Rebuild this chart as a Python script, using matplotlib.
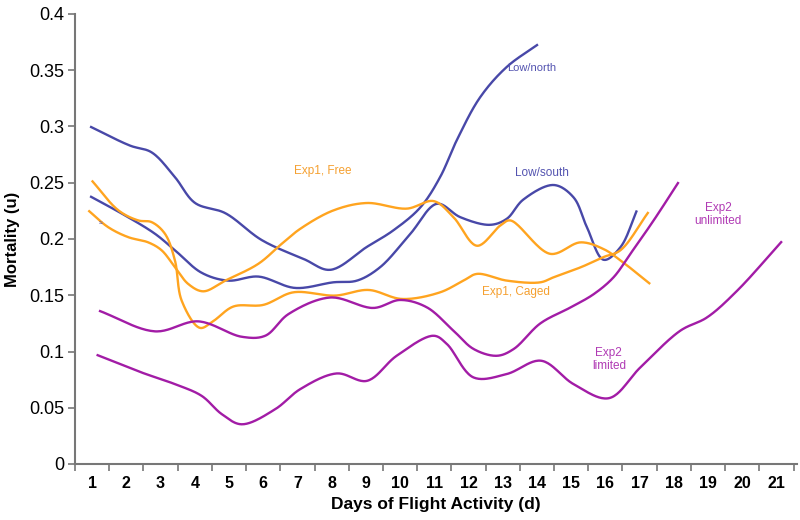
import matplotlib.pyplot as plt
import numpy as np

# values (day, mortality)
low_north_x = [0.94, 2.11, 2.74, 3.42, 4.01, 4.89, 5.96, 7.2, 7.96, 9.03, 9.8, 10.59, 11.17, 11.66, 12.34, 13.12, 14.03]
low_north_y = [0.300, 0.283, 0.277, 0.255, 0.232, 0.223, 0.199, 0.182, 0.1726, 0.193, 0.2076, 0.228, 0.255, 0.288, 0.326, 0.353, 0.373]

low_south_x = [0.94, 1.96, 2.84, 3.42, 4.2, 4.98, 5.86, 6.93, 8.05, 8.74, 9.42, 10.3, 11.08, 11.76, 12.63, 13.12, 13.6, 14.49, 15.07, 15.46, 15.95, 16.44, 16.92]
low_south_y = [0.238, 0.221, 0.2046, 0.190, 0.170, 0.163, 0.1666, 0.1565, 0.1615, 0.163, 0.175, 0.2046, 0.2313, 0.2194, 0.2126, 0.218, 0.235, 0.248, 0.237, 0.2105, 0.1815, 0.1927, 0.2254]

free_x = [0.89, 1.47, 2.06, 2.64, 3.03, 3.42, 3.81, 4.25, 4.89, 5.86, 6.54, 7.08, 8.05, 9.03, 10.2, 10.98, 11.56, 12.25, 12.93, 13.22, 14.39, 15.27, 15.95, 16.44, 17.31]
free_y = [0.2254, 0.2105, 0.2016, 0.197, 0.190, 0.175, 0.160, 0.1535, 0.163, 0.178, 0.1957, 0.209, 0.2254, 0.232, 0.227, 0.2337, 0.2194, 0.194, 0.212, 0.2165, 0.1868, 0.197, 0.191, 0.181, 0.160]

caged_x = [0.99, 1.77, 2.35, 2.74, 3.13, 3.42, 3.62, 4.15, 4.54, 5.13, 6.0, 6.88, 8.1, 9.08, 10.05, 11.17, 11.85, 12.25, 13.12, 14.1, 14.49, 15.29, 15.95, 16.44, 17.26]
caged_y = [0.252, 0.2254, 0.2165, 0.215, 0.2046, 0.181, 0.145, 0.121, 0.127, 0.140, 0.1414, 0.1526, 0.1497, 0.1547, 0.1467, 0.1526, 0.163, 0.169, 0.163, 0.1615, 0.166, 0.175, 0.184, 0.190, 0.224]

unlim_x = [1.2, 2.84, 4.1, 5.37, 6.06, 6.74, 7.96, 9.22, 10.0, 10.78, 11.56, 12.15, 12.83, 13.32, 14.1, 14.97, 15.66, 16.24, 16.73, 17.41, 18.14]
unlim_y = [0.1363, 0.1179, 0.1268, 0.1131, 0.114, 0.1333, 0.148, 0.1387, 0.1458, 0.1393, 0.1185, 0.1022, 0.0962, 0.1022, 0.1250, 0.139, 0.151, 0.166, 0.1868, 0.2165, 0.2506]

lim_x = [1.13, 2.45, 3.42, 4.2, 4.79, 5.37, 6.35, 7.08, 8.15, 9.03, 9.9, 10.98, 11.37, 12.15, 13.12, 14.12, 15.07, 16.1, 17.02, 18.19, 18.97, 19.85, 21.16]
lim_y = [0.0971, 0.0813, 0.071, 0.0606, 0.0443, 0.0353, 0.0487, 0.0665, 0.0805, 0.0739, 0.0962, 0.114, 0.1066, 0.0769, 0.080, 0.0918, 0.071, 0.0585, 0.0858, 0.1185, 0.1303, 0.154, 0.198]

days = list(range(1, 22))
yticks = [0, 0.05, 0.1, 0.15, 0.2, 0.25, 0.3, 0.35, 0.4]
ytick_labels = ["0", "0.05", "0.1", "0.15", "0.2", "0.25", "0.3", "0.35", "0.4"]

BLUE = "#4848a8"
ORANGE = "#ffa41f"
MAGENTA = "#a21ca6"


def smooth(xs, ys, n=24):
    # centripetal Catmull-Rom, worked out in screen-like units
    sx, sy = 34.2, 1122.5
    p = np.column_stack([np.array(xs) * sx, np.array(ys) * sy])
    p = np.vstack([2 * p[0] - p[1], p, 2 * p[-1] - p[-2]])
    out = []
    for i in range(1, len(p) - 2):
        P0, P1, P2, P3 = p[i - 1], p[i], p[i + 1], p[i + 2]
        t0 = 0.0
        t1 = t0 + np.linalg.norm(P1 - P0) ** 0.5
        t2 = t1 + np.linalg.norm(P2 - P1) ** 0.5
        t3 = t2 + np.linalg.norm(P3 - P2) ** 0.5
        t = np.linspace(t1, t2, n, endpoint=False)[:, None]
        A1 = (t1 - t) / (t1 - t0) * P0 + (t - t0) / (t1 - t0) * P1
        A2 = (t2 - t) / (t2 - t1) * P1 + (t - t1) / (t2 - t1) * P2
        A3 = (t3 - t) / (t3 - t2) * P2 + (t - t2) / (t3 - t2) * P3
        B1 = (t2 - t) / (t2 - t0) * A1 + (t - t0) / (t2 - t0) * A2
        B2 = (t3 - t) / (t3 - t1) * A2 + (t - t1) / (t3 - t1) * A3
        out.append((t2 - t) / (t2 - t1) * B1 + (t - t1) / (t2 - t1) * B2)
    out.append(p[-2][None, :])
    out = np.vstack(out)
    return out[:, 0] / sx, out[:, 1] / sy


plt.rcParams["font.family"] = ["Liberation Sans", "DejaVu Sans"]

fig = plt.figure(figsize=(8, 5.2), dpi=100)
ax = fig.add_axes([75 / 800, 56 / 520, 722 / 800, 450 / 520])

for xs, ys, c in [(low_north_x, low_north_y, BLUE), (low_south_x, low_south_y, BLUE),
                  (free_x, free_y, ORANGE), (caged_x, caged_y, ORANGE),
                  (unlim_x, unlim_y, MAGENTA), (lim_x, lim_y, MAGENTA)]:
    sx, sy = smooth(xs, ys)
    ax.plot(sx, sy, color=c, lw=1.7, solid_capstyle="butt")

ax.set_xlim(0.5, 21.6)
ax.set_ylim(0, 0.4)

ax.set_yticks(yticks)
ax.set_yticklabels(ytick_labels, fontsize=13)
ax.set_xticks(days)
ax.set_xticklabels([str(d) for d in days], fontsize=11.5, fontweight="bold")
ax.set_xticks([d + 0.5 for d in range(0, 22)], minor=True)
ax.tick_params(axis="x", which="major", length=0, pad=9)
ax.tick_params(axis="x", which="minor", length=5, color="#777777", width=1.2)
ax.tick_params(axis="y", length=5, color="#777777", width=1.2, pad=3)

for s in ["top", "right"]:
    ax.spines[s].set_visible(False)
for s in ["left", "bottom"]:
    ax.spines[s].set_color("#777777")
    ax.spines[s].set_linewidth(1.5)

ax.set_xlabel("Days of Flight Activity (d)", fontsize=12.5, fontweight="bold", labelpad=4)
ax.set_ylabel("Mortality (u)", fontsize=12, fontweight="bold", labelpad=6)

# series labels
ax.text(13.85, 0.352, "Low/north", color="#5353b0", fontsize=8, ha="center", va="center")
ax.text(14.15, 0.259, "Low/south", color="#5353b0", fontsize=8.5, ha="center", va="center")
ax.text(7.75, 0.260, "Exp1, Free", color="#f5a030", fontsize=8.5, ha="center", va="center")
ax.text(13.4, 0.153, "Exp1, Caged", color="#f5a030", fontsize=8.5, ha="center", va="center")
ax.text(19.3, 0.222, "Exp2\nunlimited", color="#b03ab4", fontsize=8.5, ha="center", va="center",
        linespacing=1.1)
ax.text(16.1, 0.093, "Exp2\nlimited", color="#b03ab4", fontsize=8.5, ha="center", va="center",
        linespacing=1.1)
ax.text(1.25, 0.214, "≈", color="#5353b0", fontsize=5, ha="center", va="center")

plt.savefig("out.png", dpi=100)
